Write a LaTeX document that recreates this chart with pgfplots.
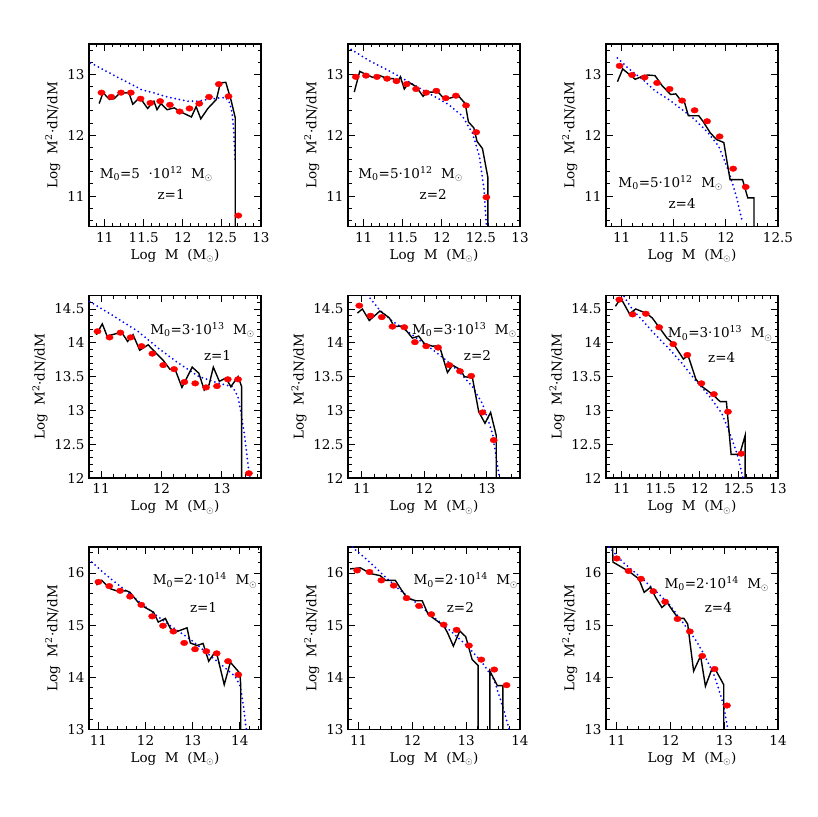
\documentclass[border=0pt]{standalone}
\usepackage{fontspec}
\setmainfont{DejaVu Serif}
\usepackage{pgfplots}
\pgfplotsset{compat=1.18}
\newcommand{\fs}{\fontsize{13.5}{16}\selectfont}
\newcommand{\Msun}{M\textsubscript{$\odot$}}
\pgfplotsset{
  panel/.style={scale only axis, width=172pt, height=182.5pt, anchor=south west,
    tick align=inside, major tick length=7pt, minor tick length=3.5pt,
    axis line style={line width=1.5pt},
    every tick/.style={line width=1.0pt, black},
    /pgf/number format/assume math mode=true,
    tick label style={font=\fs}, label style={font=\fs},
    xlabel={Log\ \ M\ \ (\Msun)}, ylabel={Log\ \ M\textsuperscript{2}·dN/dM},
    xticklabel shift=2pt, yticklabel shift=1pt},
  sim/.style={black, line width=1.4pt, no markers},
  dots/.style={only marks, mark=*, mark size=3.3pt, red, mark options={xscale=1.1,yscale=0.85}},
  model/.style={blue, line width=2pt, dash pattern=on 0pt off 4.4pt, line cap=round, no markers},
  row1/.style={ymin=10.5,ymax=13.5,ytick={11,12,13},minor ytick={10.6,10.8,...,13.41}},
  row2/.style={ymin=12,ymax=14.7,ytick={12,12.5,...,14.5},minor ytick={12.1,12.2,...,14.71}},
  row3/.style={ymin=13,ymax=16.5,ytick={13,14,15,16},minor ytick={13.2,13.4,...,16.41}},
}
\begin{document}
\begin{tikzpicture}
\useasboundingbox (0,0) rectangle (817pt,817pt);
% ---------------- Row 1 ----------------
\begin{axis}[panel,row1,at={(89pt,590.5pt)},xmin=10.8,xmax=13,xtick={11,11.5,...,13},minor xtick={10.9,11.0,...,13.01}]
\addplot[model] coordinates {(10.82,13.19)(10.98,13.08)(11.17,12.95)(11.34,12.84)(11.47,12.75)(11.62,12.70)(11.77,12.64)(11.91,12.60)(12.06,12.56)(12.19,12.56)(12.32,12.59)(12.45,12.61)(12.55,12.62)(12.60,12.53)(12.63,12.37)(12.65,12.10)(12.67,11.55)};
\addplot[sim] coordinates {(10.93,12.52)(10.98,12.70)(11.06,12.59)(11.12,12.60)(11.19,12.69)(11.31,12.70)(11.36,12.51)(11.45,12.62)(11.55,12.44)(11.63,12.56)(11.67,12.42)(11.72,12.52)(11.80,12.42)(11.89,12.45)(11.98,12.38)(12.11,12.30)(12.17,12.47)(12.23,12.27)(12.32,12.44)(12.43,12.59)(12.48,12.86)(12.55,12.87)(12.62,12.56)(12.67,12.29)(12.67,10.0)};
\addplot[dots] coordinates {(10.96,12.70)(11.085,12.63)(11.21,12.70)(11.335,12.70)(11.46,12.60)(11.585,12.53)(11.71,12.56)(11.835,12.50)(11.96,12.39)(12.085,12.44)(12.21,12.52)(12.335,12.63)(12.46,12.84)(12.585,12.64)(12.71,10.68)};
\node[font=\fs] at (axis cs:11.66,11.36) {M\textsubscript{0}=5\ \ ·10\textsuperscript{12}\ \ \Msun};
\node[font=\fs] at (axis cs:11.85,11.03) {z=1};
\end{axis}
\begin{axis}[panel,row1,at={(348pt,590.5pt)},xmin=10.8,xmax=13,xtick={11,11.5,...,13},minor xtick={10.9,11.0,...,13.01}]
\addplot[model] coordinates {(10.84,13.41)(11.08,13.22)(11.34,13.05)(11.60,12.86)(11.86,12.67)(12.08,12.51)(12.26,12.32)(12.39,12.04)(12.48,11.66)(12.54,11.11)(12.57,10.51)};
\addplot[sim] coordinates {(10.88,12.71)(10.95,13.05)(11.03,13.0)(11.12,12.95)(11.21,12.98)(11.30,12.93)(11.38,12.93)(11.43,12.87)(11.47,12.96)(11.52,12.76)(11.58,12.87)(11.67,12.80)(11.76,12.64)(11.82,12.71)(11.95,12.71)(12.04,12.59)(12.13,12.62)(12.21,12.65)(12.30,12.52)(12.34,12.22)(12.41,12.12)(12.45,11.90)(12.52,11.78)(12.59,11.30)(12.59,10.0)};
\addplot[dots] coordinates {(10.90,12.96)(11.03,12.98)(11.17,12.96)(11.30,12.93)(11.42,12.89)(11.55,12.84)(11.67,12.76)(11.80,12.70)(11.93,12.73)(12.05,12.61)(12.18,12.65)(12.31,12.49)(12.44,12.05)(12.57,10.98)};
\node[font=\fs] at (axis cs:11.60,11.36) {M\textsubscript{0}=5·10\textsuperscript{12}\ \ \Msun};
\node[font=\fs] at (axis cs:11.89,11.03) {z=2};
\end{axis}
\begin{axis}[panel,row1,at={(606pt,590.5pt)},xmin=10.85,xmax=12.5,xtick={11,11.5,12,12.5},minor xtick={10.9,11.0,...,12.51}]
\addplot[model] coordinates {(10.96,13.27)(11.07,13.09)(11.20,12.92)(11.32,12.73)(11.45,12.59)(11.58,12.42)(11.70,12.26)(11.83,12.04)(11.93,11.82)(12.02,11.44)(12.10,11.00)(12.16,10.56)};
\addplot[sim] coordinates {(10.96,12.88)(11.01,13.09)(11.13,12.92)(11.20,12.97)(11.25,12.99)(11.32,12.98)(11.39,12.81)(11.47,12.67)(11.52,12.68)(11.56,12.59)(11.60,12.56)(11.64,12.32)(11.74,12.32)(11.78,12.23)(11.85,12.04)(11.91,11.93)(11.98,11.88)(12.04,11.27)(12.16,11.27)(12.21,10.97)(12.27,10.97)(12.27,10.0)};
\addplot[dots] coordinates {(10.98,13.14)(11.10,12.99)(11.22,12.95)(11.34,12.86)(11.46,12.76)(11.58,12.57)(11.70,12.41)(11.82,12.23)(11.94,11.98)(12.07,11.45)(12.19,11.15)};
\node[font=\fs] at (axis cs:11.47,11.22) {M\textsubscript{0}=5·10\textsuperscript{12}\ \ \Msun};
\node[font=\fs] at (axis cs:11.58,10.88) {z=4};
\end{axis}
% ---------------- Row 2 ----------------
\begin{axis}[panel,row2,at={(89pt,339pt)},xmin=10.8,xmax=13.65,xtick={11,12,13},minor xtick={11.2,11.4,...,13.61}]
\addplot[model] coordinates {(10.81,14.61)(11.22,14.39)(11.61,14.17)(11.95,13.92)(12.28,13.70)(12.62,13.50)(12.96,13.40)(13.18,13.35)(13.27,13.20)(13.32,12.96)(13.38,12.61)(13.44,12.16)(13.47,12.01)};
\addplot[sim] coordinates {(10.92,14.12)(11.02,14.28)(11.10,14.10)(11.27,14.14)(11.33,14.17)(11.44,14.02)(11.53,14.12)(11.64,13.89)(11.78,13.97)(11.92,13.84)(12.03,13.74)(12.14,13.61)(12.23,13.60)(12.34,13.34)(12.42,13.48)(12.51,13.64)(12.62,13.55)(12.71,13.30)(12.79,13.38)(12.86,13.64)(12.96,13.43)(13.07,13.48)(13.15,13.35)(13.27,13.50)(13.33,13.35)(13.33,11.0)};
\addplot[dots] coordinates {(10.94,14.17)(11.14,14.08)(11.32,14.15)(11.49,14.08)(11.67,13.95)(11.85,13.84)(12.03,13.67)(12.21,13.61)(12.38,13.42)(12.56,13.40)(12.74,13.34)(12.92,13.36)(13.10,13.46)(13.27,13.46)(13.45,12.07)};
\node[font=\fs] at (axis cs:12.68,14.19) {M\textsubscript{0}=3·10\textsuperscript{13}\ \ \Msun};
\node[font=\fs] at (axis cs:12.93,13.81) {z=1};
\end{axis}
\begin{axis}[panel,row2,at={(348pt,339pt)},xmin=10.78,xmax=13.53,xtick={11,12,13},minor xtick={11.2,11.4,...,13.41}]
\addplot[model] coordinates {(11.09,14.71)(11.28,14.49)(11.49,14.32)(11.70,14.19)(11.92,14.04)(12.13,13.90)(12.34,13.75)(12.56,13.57)(12.77,13.35)(12.93,13.10)(13.09,12.66)(13.20,12.01)};
\addplot[sim] coordinates {(10.93,14.44)(11.01,14.50)(11.12,14.33)(11.29,14.47)(11.44,14.37)(11.52,14.24)(11.65,14.25)(11.81,14.07)(11.91,14.10)(12.00,13.99)(12.13,13.95)(12.24,13.96)(12.37,13.56)(12.45,13.67)(12.58,13.60)(12.64,13.50)(12.77,13.48)(12.87,12.98)(12.97,12.81)(13.06,12.97)(13.15,12.63)(13.15,11.0)};
\addplot[dots] coordinates {(10.96,14.55)(11.14,14.40)(11.32,14.38)(11.49,14.24)(11.68,14.23)(11.85,14.01)(12.03,13.95)(12.22,13.93)(12.40,13.67)(12.57,13.58)(12.75,13.51)(12.93,12.97)(13.11,12.56)};
\node[font=\fs] at (axis cs:12.64,14.19) {M\textsubscript{0}=3·10\textsuperscript{13}\ \ \Msun};
\node[font=\fs] at (axis cs:12.85,13.81) {z=2};
\end{axis}
\begin{axis}[panel,row2,at={(606pt,339pt)},xmin=10.8,xmax=13,xtick={11,11.5,...,13},minor xtick={10.9,11.0,...,13.01}]
\addplot[model] coordinates {(11.0,14.74)(11.14,14.49)(11.26,14.34)(11.43,14.12)(11.60,13.92)(11.77,13.70)(11.94,13.45)(12.11,13.23)(12.28,12.96)(12.40,12.61)(12.49,12.31)(12.55,12.01)};
\addplot[sim] coordinates {(10.92,14.54)(10.99,14.66)(11.10,14.43)(11.18,14.50)(11.31,14.44)(11.39,14.37)(11.48,14.23)(11.58,14.07)(11.66,13.99)(11.79,13.76)(11.85,13.81)(11.95,13.46)(12.02,13.36)(12.17,13.23)(12.26,13.13)(12.34,13.13)(12.40,12.35)(12.51,12.35)(12.58,12.63)(12.58,11.0)};
\addplot[dots] coordinates {(10.97,14.64)(11.14,14.42)(11.31,14.43)(11.48,14.23)(11.66,13.98)(11.84,13.82)(12.02,13.40)(12.18,13.24)(12.36,12.98)(12.53,12.36)};
\node[font=\fs] at (axis cs:12.26,14.14) {M\textsubscript{0}=3·10\textsuperscript{13}\ \ \Msun};
\node[font=\fs] at (axis cs:12.28,13.78) {z=4};
\end{axis}
% ---------------- Row 3 ----------------
\begin{axis}[panel,row3,at={(89pt,87.5pt)},xmin=10.8,xmax=14.45,xtick={11,12,13,14},minor xtick={11.2,11.4,...,14.41}]
\addplot[model] coordinates {(10.86,16.21)(11.18,15.95)(11.53,15.70)(11.88,15.44)(12.24,15.18)(12.59,14.95)(12.95,14.73)(13.30,14.47)(13.65,14.21)(13.90,14.02)(14.01,13.83)(14.08,13.44)(14.14,12.99)};
\addplot[sim] coordinates {(10.96,15.77)(11.07,15.86)(11.25,15.70)(11.42,15.65)(11.60,15.66)(11.67,15.63)(11.85,15.43)(11.99,15.34)(12.17,15.25)(12.27,15.06)(12.42,15.13)(12.52,14.95)(12.61,14.86)(12.70,14.89)(12.88,14.95)(12.95,14.66)(13.09,14.61)(13.22,14.65)(13.34,14.31)(13.44,14.44)(13.51,14.46)(13.67,13.86)(13.80,14.29)(14.0,14.08)(14.02,13.86)(14.02,12.0)};
\addplot[dots] coordinates {(11.0,15.83)(11.23,15.75)(11.46,15.66)(11.67,15.55)(11.91,15.39)(12.14,15.17)(12.37,14.99)(12.59,14.88)(12.82,14.66)(13.05,14.54)(13.29,14.50)(13.51,14.46)(13.75,14.31)(13.97,14.05)};
\node[font=\fs] at (axis cs:13.26,15.86) {M\textsubscript{0}=2·10\textsuperscript{14}\ \ \Msun};
\node[font=\fs] at (axis cs:13.23,15.34) {z=1};
\end{axis}
\begin{axis}[panel,row3,at={(348pt,87.5pt)},xmin=10.8,xmax=14,xtick={11,12,13,14},minor xtick={11.2,11.4,...,13.81}]
\addplot[model] coordinates {(10.88,16.50)(11.16,16.25)(11.47,15.95)(11.78,15.66)(12.09,15.41)(12.40,15.15)(12.71,14.89)(13.02,14.60)(13.30,14.28)(13.52,13.95)(13.70,13.37)(13.80,12.99)};
\addplot[sim] coordinates {(10.84,16.08)(11.03,16.10)(11.22,15.99)(11.40,15.95)(11.50,15.86)(11.68,15.86)(11.78,15.70)(11.90,15.52)(12.06,15.47)(12.18,15.47)(12.29,15.21)(12.46,15.08)(12.58,14.99)(12.65,14.86)(12.76,14.60)(12.88,14.89)(12.99,14.78)(13.11,14.34)(13.22,14.23)(13.22,12.0)(13.44,12.0)(13.44,14.12)(13.58,13.84)(13.68,13.84)(13.68,12.0)};
\addplot[dots] coordinates {(10.97,16.05)(11.20,16.02)(11.42,15.86)(11.65,15.76)(11.89,15.52)(12.12,15.37)(12.35,15.21)(12.58,15.01)(12.82,14.91)(13.05,14.61)(13.28,14.34)(13.52,14.15)(13.75,13.85)};
\node[font=\fs] at (axis cs:12.99,15.86) {M\textsubscript{0}=2·10\textsuperscript{14}\ \ \Msun};
\node[font=\fs] at (axis cs:12.89,15.34) {z=2};
\end{axis}
\begin{axis}[panel,row3,at={(606pt,87.5pt)},xmin=10.8,xmax=14,xtick={11,12,13,14},minor xtick={11.2,11.4,...,13.81}]
\addplot[model] coordinates {(10.86,16.50)(11.11,16.21)(11.41,15.95)(11.72,15.66)(11.97,15.41)(12.21,15.08)(12.46,14.73)(12.64,14.41)(12.82,14.02)(12.98,13.50)(13.07,12.99)};
\addplot[sim] coordinates {(10.92,16.6)(10.93,16.21)(11.23,16.03)(11.41,15.89)(11.51,15.63)(11.63,15.73)(11.72,15.54)(11.84,15.34)(11.94,15.43)(12.06,15.25)(12.15,15.13)(12.25,15.13)(12.32,15.02)(12.43,14.12)(12.56,14.41)(12.65,13.83)(12.77,14.16)(12.83,14.16)(12.99,13.86)(12.99,12.0)};
\addplot[dots] coordinates {(11.0,16.28)(11.22,16.04)(11.45,15.89)(11.68,15.65)(11.90,15.45)(12.13,15.12)(12.36,14.88)(12.59,14.41)(12.82,14.16)(13.05,13.46)};
\node[font=\fs] at (axis cs:12.86,15.79) {M\textsubscript{0}=2·10\textsuperscript{14}\ \ \Msun};
\node[font=\fs] at (axis cs:12.89,15.34) {z=4};
\end{axis}
\end{tikzpicture}
\end{document}
